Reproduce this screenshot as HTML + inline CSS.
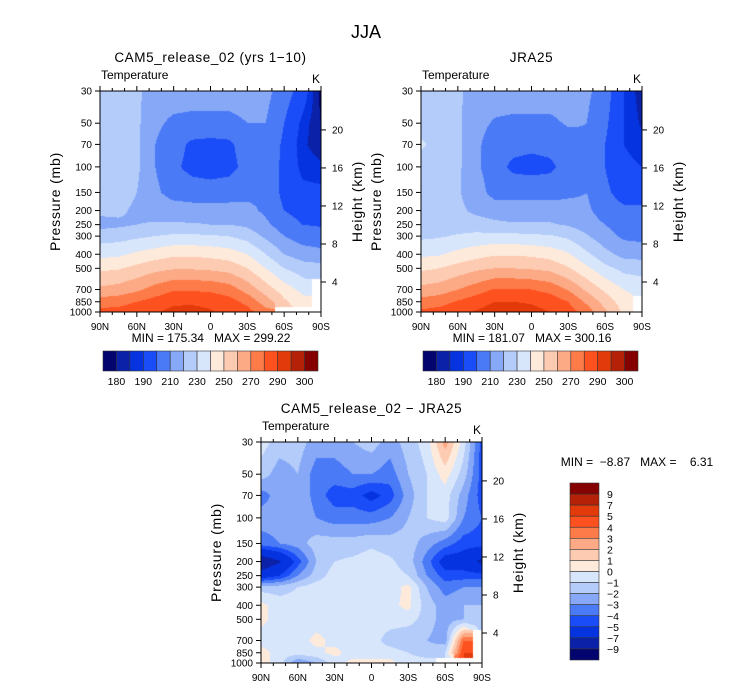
<!DOCTYPE html>
<html><head><meta charset="utf-8">
<style>
html,body{margin:0;padding:0;background:#fff;}
#wrap{position:relative;width:733px;height:686px;overflow:hidden;font-family:"Liberation Sans",sans-serif;}
canvas{position:absolute;}
svg{position:absolute;left:0;top:0;}
text{font-family:"Liberation Sans",sans-serif;fill:#000;white-space:pre;}
</style></head>
<body>
<div id="wrap">
<canvas id="c1" width="221" height="221" style="left:100px;top:91px"></canvas>
<canvas id="c2" width="221" height="221" style="left:421px;top:91px"></canvas>
<canvas id="c3" width="221" height="221" style="left:261px;top:442px"></canvas>
<svg id="ov" width="733" height="686"></svg>
</div>
<script>
const lats=[90,75,60,45,30,15,0,-15,-30,-45,-60,-75,-90];
const pLevels=[30,50,70,100,150,200,250,300,400,500,700,850,1000];
const pTickLabels=["30","50","70","100","150","200","250","300","400","500","700","850","1000"];
const latTicks=[90,60,30,0,-30,-60,-90];
const latTickLabels=["90N","60N","30N","0","30S","60S","90S"];
const kmTicks=[4,8,12,16,20];
const tempLevels=[180,185,190,200,210,220,230,240,250,260,270,280,290,295,300];
const tempBarLabels=["180","190","210","230","250","270","290","300"];
const diffLevels=[-9,-7,-5,-4,-3,-2,-1,0,1,2,3,4,5,7,9];
const diffBarLabels=["9","7","5","4","3","2","1","0","\u22121","\u22122","\u22123","\u22124","\u22125","\u22127","\u22129"];
const colors=["#03046e","#0a21a8","#0533e0","#1a4cf7","#4b7af6","#86a8f7","#b4ccfa","#d8e6fc","#feeadb","#fdcab2","#fca985","#fd7b48","#fd5220","#e23a0a","#b52106","#850000"];
const N=null;
const cam5=[
[225,225,222,215,215,215,215,215,215,213,205,195,178],
[225,225,222,212,208,207,207,207,210,210,200,188,180],
[225,225,222,210,204,198,197,198,205,208,198,186,182],
[225,225,222,210,202,197,196,197,203,208,197,188,186],
[225,225,220,212,206,205,204,205,207,208,197,192,192],
[222,222,218,216,215,214,214,214,213,208,200,196,196],
[217,218,220,221,221,221,220,220,218,212,205,200,199],
[225,226,228,230,232,232,231,230,226,218,210,205,204],
[237,238,242,245,248,248,247,245,240,230,220,215,213],
[248,249,253,257,259,259,258,256,250,240,230,225,224],
[262,264,268,274,279,279,278,275,266,255,245,237,N],
[275,276,280,284,288,288,287,284,277,265,252,244,N],
[283,284,287,289,293,294,291,288,284,274,N,N,N]];
const jra25=[
[225,225,222,215,215,215,215,215,215,212,205,190,182],
[225,225,222,213,209,208,208,208,211,210,202,190,184],
[232,225,222,212,205,203,202,203,206,209,200,190,187],
[225,225,222,212,204,198,197,198,204,209,200,192,190],
[227,225,221,215,206,206,206,206,208,210,202,196,196],
[225,224,222,218,216,215,215,215,214,212,205,202,202],
[226,226,225,224,222,221,221,221,219,215,210,205,204],
[228,229,231,233,233,233,232,231,228,221,214,208,207],
[238,239,243,246,249,249,248,246,241,232,223,217,216],
[248,250,254,258,260,260,259,257,251,242,233,227,226],
[263,265,270,275,281,281,280,277,269,258,248,240,236],
[274,276,281,286,290,290,289,286,280,268,256,245,N],
[282,284,288,291,294,295,293,290,285,275,262,248,N]];
const diff=[
[-0.5,-1.5,-1.5,-2.5,-2.5,-2,-1.5,-2.5,-1.5,-0.5,2.5,-0.5,-4.5],
[-1.5,-2.5,-2,-3.5,-3.5,-3,-3,-3.5,-2,-1,0.5,-1.5,-4.5],
[-3.5,-2.5,-2,-3.5,-4.5,-4.5,-5.5,-4.5,-2.5,-1,-0.5,-2.5,-4.5],
[-2.5,-2.5,-2,-3,-3.5,-3.5,-3.5,-3,-2,-1,-0.5,-3,-4],
[-3.5,-3,-2.5,-1.5,-1.5,-1.5,-1.2,-1.5,-1.5,-2.5,-3.5,-4.5,-4.5],
[-8.6,-7.2,-4.5,-2,-1,-0.8,-0.5,-0.8,-1.5,-3.5,-5.8,-5.8,-7.5],
[-6,-5,-3,-1.5,-0.5,-0.5,-0.5,-0.6,-1,-3,-4.5,-4.5,-4.5],
[-1.5,-1.5,-1,-0.5,-0.5,-0.5,-0.5,-0.5,0.3,-2,-3.5,-3,-3],
[0.3,-0.5,-0.5,-0.5,-0.5,-0.5,-0.5,-0.3,0.3,-1.5,-2.5,-2,-2],
[0.3,-0.5,-0.5,-0.5,-0.3,-0.5,-0.5,-0.5,-0.5,-1.5,-2.5,-2,-1.5],
[-0.5,-0.5,-0.5,0.3,-0.3,-0.5,-0.5,-1.5,-2,-2,-2.5,4,N],
[0.5,-0.5,-0.5,-0.3,0.3,-0.5,-0.5,-0.5,-1,-1.5,-1,5,N],
[0.5,-0.5,-3,-2,-0.5,0.3,0.3,0.3,-0.5,-0.5,N,N,N]];

const W=221,H=221;
const lnTop=Math.log(30),lnBot=Math.log(1000);
function yOfP(p){return (Math.log(p)-lnTop)/(lnBot-lnTop)*H;}
function xOfLat(l){return (90-l)/180*W;}
function colorIdx(v,lev){let k=0;for(const L of lev){if(v>=L)k++;}return k;}
function hex(c){return [parseInt(c.substr(1,2),16),parseInt(c.substr(3,2),16),parseInt(c.substr(5,2),16)];}
const rgb=colors.map(hex);
const lnP=pLevels.map(Math.log);
function drawField(id,grid,lev){
  const cv=document.getElementById(id),ctx=cv.getContext('2d');
  const img=ctx.createImageData(W,H);
  for(let py=0;py<H;py++){
    const lp=lnTop+(py+0.5)/H*(lnBot-lnTop);
    let j=0;while(j<lnP.length-2&&lp>lnP[j+1])j++;
    let fy=(lp-lnP[j])/(lnP[j+1]-lnP[j]);fy=Math.max(0,Math.min(1,fy));
    for(let px=0;px<W;px++){
      const fi=(px+0.5)/W*(lats.length-1);
      let i=Math.min(lats.length-2,Math.floor(fi));const fx=fi-i;
      const ni=Math.round(fi),nj=fy<0.5?j:j+1;
      let c;
      if(grid[nj][ni]===null){c=[255,255,255];}
      else{
        const g=(a,b)=>{const v=grid[a][b];return v===null?grid[nj][ni]:v;};
        const v=(g(j,i)*(1-fx)+g(j,i+1)*fx)*(1-fy)+(g(j+1,i)*(1-fx)+g(j+1,i+1)*fx)*fy;
        c=rgb[colorIdx(v,lev)];
      }
      const o=(py*W+px)*4;img.data[o]=c[0];img.data[o+1]=c[1];img.data[o+2]=c[2];img.data[o+3]=255;
    }
  }
  ctx.putImageData(img,0,0);
}
drawField('c1',cam5,tempLevels);
drawField('c2',jra25,tempLevels);
drawField('c3',diff,diffLevels);

const svg=document.getElementById('ov');
const NS='http://www.w3.org/2000/svg';
function el(tag,attrs,txt){const e=document.createElementNS(NS,tag);for(const k in attrs)e.setAttribute(k,attrs[k]);if(txt!==undefined)e.textContent=txt;svg.appendChild(e);return e;}
function txt(x,y,s,size,anchor,name,extra){const t=el('text',Object.assign({x:x,y:y,'font-size':size,'text-anchor':anchor||'start'},extra||{}),s);

return t;}

txt(366,38,'JJA',18,'middle','figure-title');
const H0=6.63,P0=1136;
function drawAxes(L,T,title,prefix){
  const fr=el('rect',{x:L,y:T,width:W,height:H,fill:'none',stroke:'#000','stroke-width':1});
  
  
  pLevels.forEach((p,k)=>{const y=T+yOfP(p);
    const l=el('line',{x1:L-5,y1:y,x2:L,y2:y,stroke:'#000'});
    
    
    txt(L-8,y+3.5,pTickLabels[k],10,'end',prefix+'-y-tick-label');});
  kmTicks.forEach(z=>{const p=P0*Math.exp(-z/H0);const y=T+yOfP(p);
    const l=el('line',{x1:L+W,y1:y,x2:L+W+5,y2:y,stroke:'#000'});
    
    
    txt(L+W+11,y+3.5,String(z),10,'start',prefix+'-height-tick-label');});
  for(let lat=90;lat>=-90;lat-=10){const x=L+xOfLat(lat);const len=(lat%30===0)?5:3;
    const a=el('line',{x1:x,y1:T+H,x2:x,y2:T+H+len,stroke:'#000'});
    
    
    const b=el('line',{x1:x,y1:T,x2:x,y2:T-len,stroke:'#000'});
    
    }
  latTicks.forEach((lat,k)=>txt(L+xOfLat(lat),T+H+18,latTickLabels[k],10,'middle',prefix+'-x-tick-label'));
  txt(L+1,T-12,'Temperature',12,'start',prefix+'-variable-label');
  txt(L+W-1,T-8,'K',12,'end',prefix+'-units-label');
  txt(L+W/2,T-29,title,13.5,'middle',prefix+'-title',{'letter-spacing':'0.6'});
  txt(L-40,T+H/2,'Pressure (mb)',14,'middle',prefix+'-y-axis-title',{transform:`rotate(-90 ${L-40} ${T+H/2})`,'letter-spacing':'0.8'});
  txt(L+W+41,T+H/2,'Height (km)',14,'middle',prefix+'-height-axis-title',{transform:`rotate(-90 ${L+W+41} ${T+H/2})`,fill:'#555','letter-spacing':'0.8'});
}
drawAxes(100,91,'CAM5_release_02 (yrs 1\u221210)','cam5');
drawAxes(421,91,'JRA25','jra25');
drawAxes(261,442,'CAM5_release_02 \u2212 JRA25','diff');
txt(211,342,'MIN = 175.34   MAX = 299.22',12,'middle','cam5-min-max');
txt(532,342,'MIN = 181.07   MAX = 300.16',12,'middle','jra25-min-max');
txt(637,466,'MIN =  \u22128.87   MAX =    6.31',12,'middle','diff-min-max');

function hBar(L,T,prefix){
  const bw=215/16;
  colors.forEach((c,k)=>{const r=el('rect',{x:L+k*bw,y:T,width:bw,height:20,fill:c,stroke:'#333','stroke-width':0.6});
    
    });
  tempBarLabels.forEach((s,k)=>txt(L+(1+2*k)*bw,T+34,s,10.5,'middle',prefix+'-colorbar-label'));
}
hBar(103,351,'cam5');
hBar(423,351,'jra25');
(function(){const L=570,T=483,bh=177/16;
  colors.slice().reverse().forEach((c,k)=>{const r=el('rect',{x:L,y:T+k*bh,width:29,height:bh,fill:c,stroke:'#333','stroke-width':0.6});
    
    });
  diffBarLabels.forEach((s,k)=>txt(L+37,T+(k+1)*bh+4,s,10.5,'start','diff-colorbar-label'));
})();
</script>
</body></html>
